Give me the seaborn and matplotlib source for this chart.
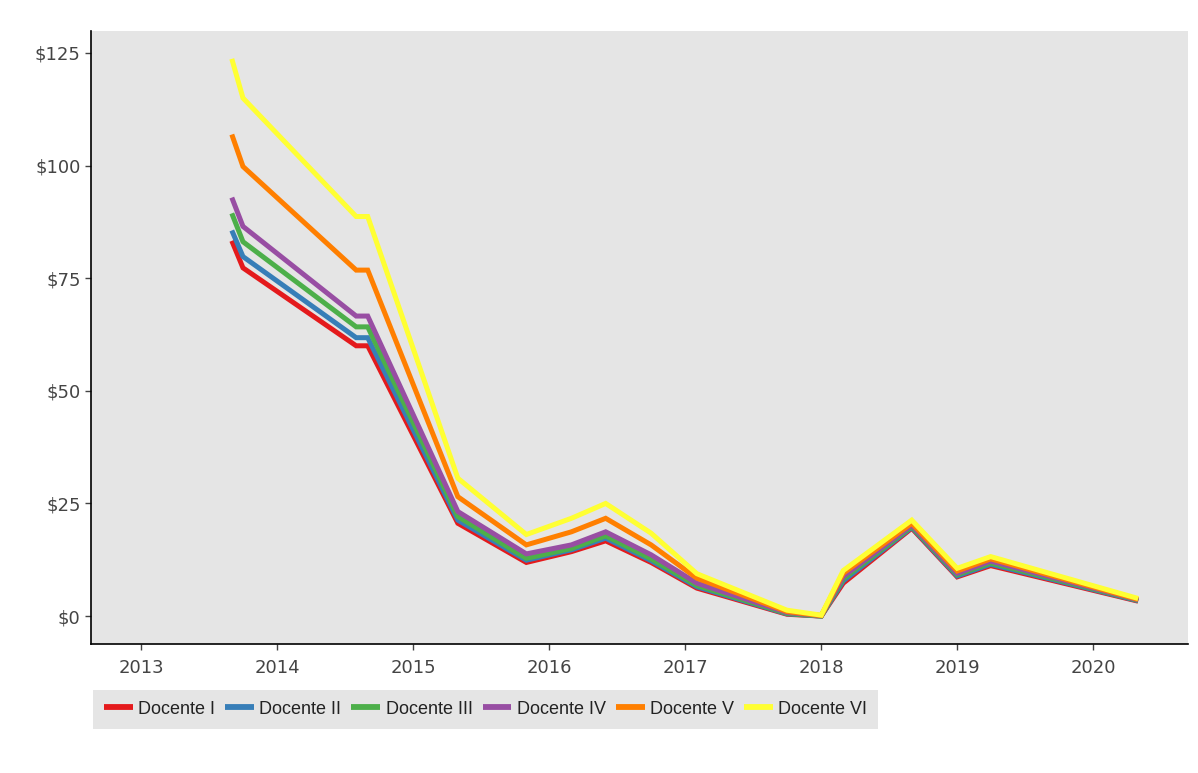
import numpy as np
import pandas as pd
import matplotlib
matplotlib.use('Agg')
import matplotlib.pyplot as plt
import matplotlib.dates as mdates
from matplotlib.ticker import FuncFormatter
import seaborn as sns

# fechas de cada punto
fechas = ['2013-09-01', '2013-10-01', '2014-08-01', '2014-09-01', '2015-05-01',
          '2015-11-01', '2016-03-01', '2016-06-01', '2016-10-01', '2017-02-01',
          '2017-10-01', '2018-01-01', '2018-03-01', '2018-09-01', '2019-01-01',
          '2019-04-01', '2020-05-01']

docentes = ['Docente I', 'Docente II', 'Docente III', 'Docente IV', 'Docente V', 'Docente VI']

docente_1 = [83.3, 77.3, 60.0, 60.0, 20.6, 11.9, 14.3, 16.7, 11.9, 6.2, 0.4, 0.0, 7.3, 19.5, 8.7, 11.2, 3.3]
docente_2 = [85.6, 79.8, 61.8, 61.8, 21.3, 12.4, 14.7, 17.3, 12.3, 6.5, 0.5, 0.0, 7.8, 19.7, 8.9, 11.5, 3.4]
docente_3 = [89.4, 83.1, 64.2, 64.2, 22.1, 12.8, 15.0, 17.8, 12.7, 6.8, 0.6, 0.0, 8.3, 19.9, 9.2, 11.8, 3.5]
docente_4 = [92.9, 86.5, 66.6, 66.6, 23.2, 13.8, 15.8, 18.7, 13.6, 7.3, 0.8, 0.1, 8.8, 20.2, 9.5, 12.2, 3.6]
docente_5 = [106.9, 99.8, 76.8, 76.8, 26.5, 15.8, 18.7, 21.7, 15.8, 8.4, 1.0, 0.1, 9.5, 20.6, 10.0, 12.7, 3.7]
docente_6 = [123.7, 115.0, 88.7, 88.7, 30.6, 18.1, 21.7, 25.0, 18.4, 9.4, 1.3, 0.2, 10.1, 21.3, 10.6, 13.2, 3.9]

valores = [docente_1, docente_2, docente_3, docente_4, docente_5, docente_6]

df = pd.concat([pd.DataFrame({'fecha': pd.to_datetime(fechas), 'valor': v, 'docente': d})
                for d, v in zip(docentes, valores)], ignore_index=True)

colores = ['#e41a1c', '#377eb8', '#4daf4a', '#984ea3', '#ff7f00', '#ffff33']

sns.set_style('white')
plt.rcParams['font.family'] = ['DejaVu Sans']

fig = plt.figure(figsize=(11.98, 7.73), dpi=100)
ax = fig.add_axes([0.076, 0.1669, 0.9157, 0.7931])
ax.set_facecolor('#e5e5e5')

sns.lineplot(data=df, x='fecha', y='valor', hue='docente', palette=colores,
             linewidth=3.6, ax=ax, sort=False,
             solid_joinstyle='miter', solid_capstyle='butt')

ax.set_xlim(pd.Timestamp('2012-08-19'), pd.Timestamp('2020-09-12'))
ax.set_ylim(-6.2, 129.9)
ax.set_yticks([0, 25, 50, 75, 100, 125])
ax.yaxis.set_major_formatter(FuncFormatter(lambda v, p: f'${v:.0f}'))
ax.xaxis.set_major_locator(mdates.YearLocator())
ax.xaxis.set_major_formatter(mdates.DateFormatter('%Y'))
ax.set_xlabel('')
ax.set_ylabel('')

for s in ['top', 'right']:
    ax.spines[s].set_visible(False)
for s in ['left', 'bottom']:
    ax.spines[s].set_color('black')
    ax.spines[s].set_linewidth(1.2)
ax.tick_params(axis='both', direction='out', length=4.5, width=1, color='#444444',
               labelsize=13, labelcolor='#444444', left=True, bottom=True)
ax.tick_params(axis='y', pad=3)
ax.tick_params(axis='x', pad=6)

handles, labels = ax.get_legend_handles_labels()
leg = ax.legend(handles, labels, ncol=6, loc='upper left',
                bbox_to_anchor=(0.0776, 0.1074), bbox_transform=fig.transFigure,
                frameon=True, facecolor='#e5e5e5', edgecolor='none', fancybox=False, framealpha=1,
                prop={'family': 'Liberation Sans', 'size': 13}, handlelength=1.6,
                handletextpad=0.3, columnspacing=0.55, borderpad=0.6, borderaxespad=0)
for t in leg.get_texts():
    t.set_color('#222222')
for h in leg.get_lines():
    h.set_linewidth(4.2)
    h.set_solid_capstyle('butt')

fig.savefig('out.png', dpi=100)
